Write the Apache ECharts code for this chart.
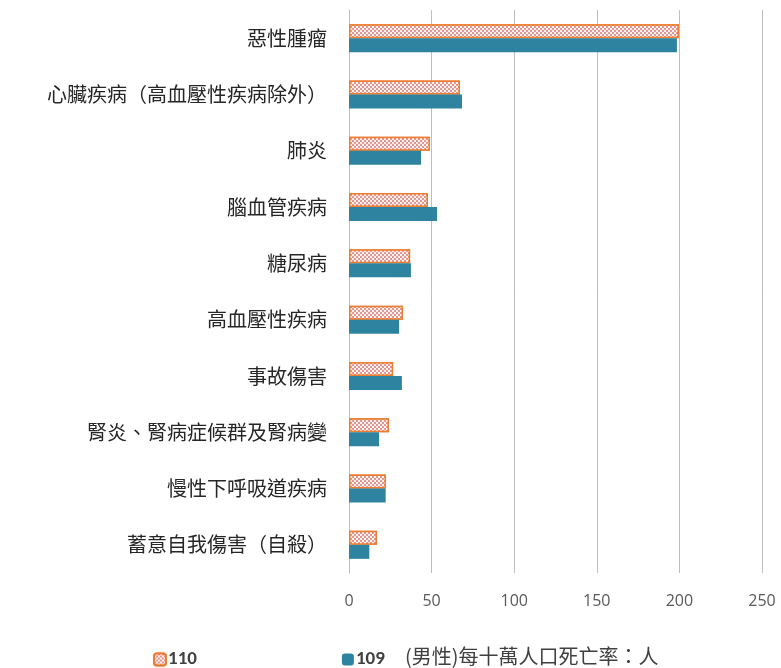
<!DOCTYPE html>
<html>
<head>
<meta charset="utf-8">
<script src="https://cdn.jsdelivr.net/npm/echarts@6/dist/echarts.min.js"></script>
<style>
  html, body { margin: 0; padding: 0; background: #fff; }
  #main { width: 781px; height: 668px; }
</style>
</head>
<body>
<div id="main"></div>
<script>
// causes of death, top to bottom as shown
const causes = [
  '惡性腫瘤',
  '心臟疾病（高血壓性疾病除外）',
  '肺炎',
  '腦血管疾病',
  '糖尿病',
  '高血壓性疾病',
  '事故傷害',
  '腎炎、腎病症候群及腎病變',
  '慢性下呼吸道疾病',
  '蓄意自我傷害（自殺）'
];
const rate110 = [199.7, 67.2, 49.0, 47.8, 37.0, 32.7, 26.7, 24.2, 22.4, 16.9];
const rate109 = [198.5, 68.4, 43.6, 53.3, 37.5, 30.3, 32.0, 18.2, 22.2, 12.3];
const xTicks = [0, 50, 100, 150, 200, 250];

const chart = echarts.init(document.getElementById('main'));

const option = {
  animation: false,
  backgroundColor: '#fff',
  grid: { left: 349, right: 19, top: 10, bottom: 95 },
  title: {
    text: '(男性)每十萬人口死亡率：人',
    left: 400,
    top: 641,
    textStyle: {
      fontFamily: '"Noto Sans CJK TC", serif',
      fontSize: 20,
      fontWeight: 'normal',
      color: '#404040'
    }
  },
  legend: {
    left: 148,
    top: 645,
    itemWidth: 12,
    itemHeight: 12,
    itemGap: 145,
    data: ['110', '109'],
    textStyle: { fontSize: 19, fontWeight: 'bold', color: '#404040', fontFamily: 'Calibri, "Liberation Sans", sans-serif', padding: [0, 0, 0, -3] }
  },
  xAxis: {
    type: 'value',
    min: xTicks[0],
    max: xTicks[xTicks.length - 1],
    interval: 50,
    axisLine: { show: false },
    axisTick: { show: false },
    splitLine: { lineStyle: { color: '#bfbfbf', width: 1 } },
    axisLabel: { color: '#595959', fontSize: 16, margin: 20, fontFamily: '"Open Sans", sans-serif' }
  },
  yAxis: {
    type: 'category',
    inverse: true,
    data: causes,
    axisLine: { show: true, lineStyle: { color: '#bfbfbf' } },
    axisTick: { show: false },
    axisLabel: {
      color: '#262626',
      fontSize: 20,
      margin: 22,
      fontFamily: '"Noto Sans CJK TC", serif'
    }
  },
  series: [
    {
      name: '110',
      type: 'bar',
      data: rate110,
      barWidth: 14,
      barGap: '0%',
      itemStyle: {
        color: '#EA9490',
        borderColor: '#ED7D31',
        borderWidth: 1.5,
        decal: {
          symbol: 'rect',
          symbolSize: 1,
          color: 'rgba(255,255,255,0.9)',
          dashArrayX: [[2, 2], [0, 2, 2, 0]],
          dashArrayY: [2, 0],
          rotation: 0
        }
      }
    },
    {
      name: '109',
      type: 'bar',
      data: rate109,
      barWidth: 14,
      itemStyle: { color: '#2E84A0' }
    }
  ]
};

chart.setOption(option);
</script>
</body>
</html>
